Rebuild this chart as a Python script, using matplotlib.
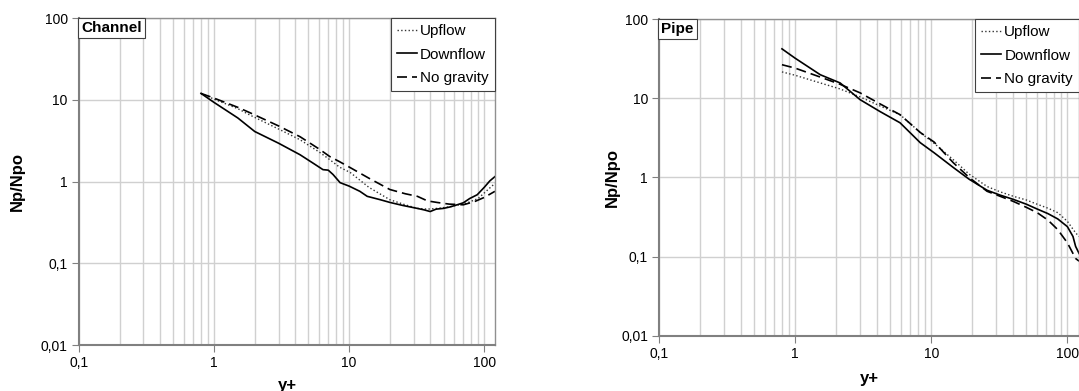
import numpy as np
import matplotlib.pyplot as plt
from matplotlib.ticker import FixedLocator, NullFormatter

plt.rcParams['font.family'] = ['Liberation Sans', 'DejaVu Sans']

# Channel data (y+ , Np/Npo)
ch_up_x = [0.8, 1.0, 1.5, 1.85, 3.0, 4.33, 6.0, 7.2, 8.5, 10.2, 14.0, 20.0, 26.0, 32.0, 38.0, 45.0, 55.0, 65.0, 75.0, 90.0, 105.0, 120.0]
ch_up_y = [12.0, 10.2, 7.8, 6.5, 4.4, 3.25, 2.3, 1.85, 1.5, 1.29, 0.85, 0.60, 0.52, 0.47, 0.46, 0.47, 0.49, 0.52, 0.55, 0.62, 0.78, 0.95]

ch_down_x = [0.8, 1.0, 1.5, 2.0, 3.0, 4.33, 5.5, 6.4, 7.0, 7.6, 8.57, 10.0, 12.0, 13.6, 17.0, 20.1, 25.0, 31.9, 36.0, 39.8, 44.0, 50.0, 56.0, 63.0, 70.0, 78.0, 88.7, 100.0, 110.0, 120.0]
ch_down_y = [12.0, 9.3, 6.0, 4.1, 2.95, 2.13, 1.65, 1.40, 1.38, 1.22, 0.97, 0.88, 0.76, 0.66, 0.60, 0.555, 0.51, 0.47, 0.45, 0.43, 0.46, 0.47, 0.49, 0.52, 0.55, 0.62, 0.69, 0.85, 1.02, 1.15]

ch_ng_x = [0.8, 1.0, 1.5, 1.85, 3.0, 4.33, 6.0, 7.2, 8.5, 10.2, 14.0, 20.0, 26.0, 32.0, 38.0, 44.9, 55.0, 70.0, 85.0, 100.0, 120.0]
ch_ng_y = [12.0, 10.5, 8.1, 6.94, 4.8, 3.54, 2.5, 2.02, 1.75, 1.48, 1.10, 0.80, 0.71, 0.66, 0.58, 0.555, 0.53, 0.52, 0.57, 0.64, 0.76]

# Pipe data
pi_up_x = [0.8, 1.0, 1.53, 2.14, 3.0, 4.2, 5.9, 8.3, 10.5, 14.5, 19.0, 25.7, 32.0, 40.0, 50.0, 60.0, 72.0, 85.0, 100.0, 115.0, 122.0]
pi_up_y = [21.5, 19.5, 15.6, 13.1, 10.4, 8.0, 6.2, 3.7, 2.7, 1.68, 1.10, 0.77, 0.66, 0.58, 0.52, 0.46, 0.41, 0.36, 0.28, 0.20, 0.18]

pi_down_x = [0.8, 1.0, 1.53, 2.14, 3.0, 4.2, 5.9, 8.3, 10.5, 14.5, 19.0, 25.7, 32.0, 40.0, 50.0, 60.0, 72.0, 85.0, 100.0, 110.0, 115.0, 122.0]
pi_down_y = [42.0, 32.0, 19.8, 15.6, 9.6, 6.8, 4.9, 2.75, 2.05, 1.34, 0.95, 0.69, 0.60, 0.53, 0.46, 0.40, 0.35, 0.30, 0.24, 0.18, 0.135, 0.11]

pi_ng_x = [0.8, 1.0, 1.53, 2.14, 3.0, 4.2, 5.9, 8.3, 10.5, 14.5, 19.0, 25.7, 32.0, 40.0, 50.0, 60.0, 72.0, 85.0, 100.0, 115.0, 122.0]
pi_ng_y = [26.5, 24.0, 18.5, 15.0, 11.7, 8.5, 6.2, 3.7, 2.8, 1.54, 1.00, 0.67, 0.58, 0.50, 0.42, 0.36, 0.29, 0.22, 0.15, 0.095, 0.088]

yticks = [0.01, 0.1, 1, 10, 100]
ytick_labels = ['0,01', '0,1', '1', '10', '100']
xticks = [0.1, 1, 10, 100]
xtick_labels = ['0,1', '1', '10', '100']
minor_x = [m * 10.0 ** e for e in range(-1, 3) for m in range(2, 10)]


def setup(ax, title, xmax):
    ax.set_xscale('log')
    ax.set_yscale('log')
    ax.set_xlim(0.1, xmax)
    ax.set_ylim(0.01, 100)
    ax.set_xticks(xticks)
    ax.set_xticklabels(xtick_labels)
    ax.set_yticks(yticks)
    ax.set_yticklabels(ytick_labels)
    ax.xaxis.set_minor_locator(FixedLocator(minor_x))
    ax.xaxis.set_minor_formatter(NullFormatter())
    ax.yaxis.set_minor_locator(FixedLocator([]))
    ax.grid(True, which='both', axis='x', color='#d0d0d0', lw=1.0)
    ax.grid(True, which='major', axis='y', color='#d0d0d0', lw=1.0)
    ax.set_axisbelow(True)
    ax.tick_params(which='major', direction='out', length=5, color='#808080',
                   labelsize=10, pad=3)
    ax.tick_params(which='minor', length=0)
    for s in ['left', 'bottom']:
        ax.spines[s].set_color('#808080')
        ax.spines[s].set_linewidth(1.5)
    for s in ['top', 'right']:
        ax.spines[s].set_color('#909090')
        ax.spines[s].set_linewidth(1.0)
    ax.set_xlabel('y+', fontweight='bold', fontsize=12)
    ax.set_ylabel('Np/Npo', fontweight='bold', fontsize=12)
    ax.text(0.005, 0.99, title, transform=ax.transAxes, fontsize=11,
            fontweight='bold', va='top', ha='left',
            bbox=dict(boxstyle='square,pad=0.2', fc='white', ec='#404040', lw=0.8))
    leg = ax.legend(loc='upper right', bbox_to_anchor=(1.0, 1.0), fontsize=11,
                    fancybox=False, framealpha=1, edgecolor='#404040',
                    handlelength=1.3, handletextpad=0.2, borderpad=0.4,
                    labelspacing=0.62, borderaxespad=0.0)
    leg.get_frame().set_linewidth(0.8)


fig = plt.figure(figsize=(10.79, 3.91), dpi=100)
ax1 = fig.add_axes([0.0732, 0.1176, 0.3855, 0.836])
ax2 = fig.add_axes([0.6108, 0.1407, 0.3893, 0.8107])

ax1.plot(ch_up_x, ch_up_y, color='#333333', ls=':', lw=1.0, label='Upflow')
ax1.plot(ch_down_x, ch_down_y, color='black', ls='-', lw=1.2, label='Downflow')
ax1.plot(ch_ng_x, ch_ng_y, color='black', ls=(0, (6, 3)), lw=1.2, label='No gravity')
setup(ax1, 'Channel', 120)
ax1.xaxis.set_label_coords(0.5, -0.1)
ax1.yaxis.set_label_coords(-0.13, 0.5)

ax2.plot(pi_up_x, pi_up_y, color='#333333', ls=':', lw=1.0, label='Upflow')
ax2.plot(pi_down_x, pi_down_y, color='black', ls='-', lw=1.2, label='Downflow')
ax2.plot(pi_ng_x, pi_ng_y, color='black', ls=(0, (6, 3)), lw=1.2, label='No gravity')
setup(ax2, 'Pipe', 122)
ax2.xaxis.set_label_coords(0.5, -0.11)
ax2.yaxis.set_label_coords(-0.093, 0.5)

fig.savefig('out.png', dpi=100)
